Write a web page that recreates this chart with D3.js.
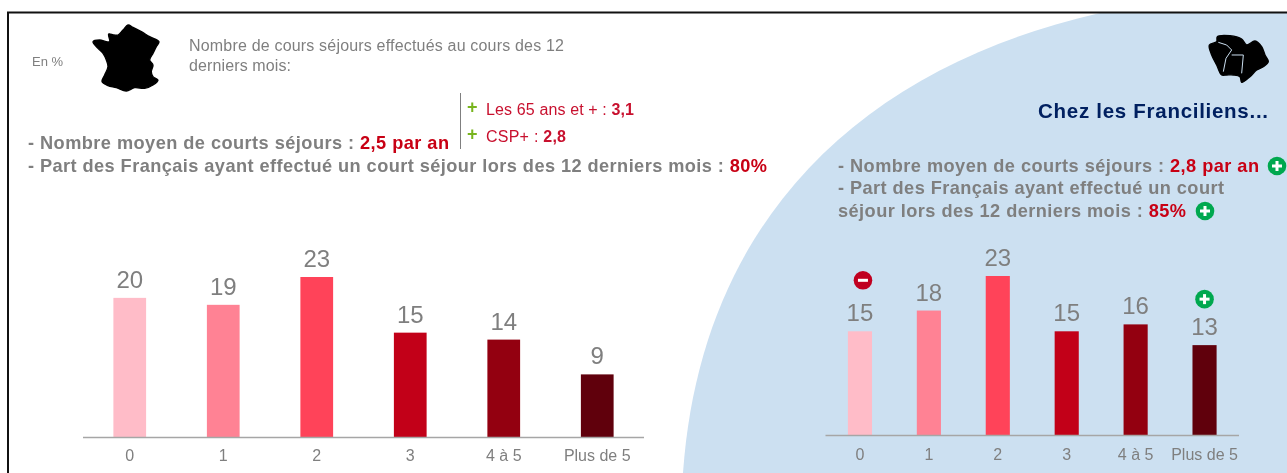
<!DOCTYPE html>
<html>
<head>
<meta charset="utf-8">
<script src="https://cdn.jsdelivr.net/npm/d3@7"></script>
<style>
html, body { margin: 0; padding: 0; background: #fff; overflow: hidden; }
svg { display: block; filter: blur(0.45px); font-family: "Liberation Sans", Arial, sans-serif; }
.axis path { stroke: #a6a6a6; stroke-width: 1.5; }
.axis text { fill: #7f7f7f; font-size: 16px; font-family: "Liberation Sans", Arial, sans-serif; }
</style>
</head>
<body>
<div id="chart"></div>
<script>
// nombre de courts sejours - France vs Ile-de-France
const categories = ["0", "1", "2", "3", "4 à 5", "Plus de 5"];
const franceValues = [20, 19, 23, 15, 14, 9];
const idfValues = [15, 18, 23, 15, 16, 13];
const idfBadges = ["minus", null, null, null, null, "plus"];
const barColors = ["#ffbcc8", "#ff8294", "#ff4359", "#c20018", "#930010", "#60000c"];

const width = 1287;
const height = 473;
const grey = "#7f7f7f";
const red = "#c80014";
const green = "#00a84f";

const svg = d3.select("#chart")
    .append("svg")
    .attr("width", width)
    .attr("height", height);

// fond bleu
svg.append("path")
    .attr("d", `M1100,13C850,70 700,230 683,473L${width},473L${width},13Z`)
    .attr("fill", "#cce0f1");

// cadre
svg.append("path")
    .attr("d", `M8,${height}V12.5H${width}`)
    .attr("fill", "none")
    .attr("stroke", "#111")
    .attr("stroke-width", 2);

function drawBars(values, badges, opts) {
    const x = d3.scaleBand()
        .domain(categories)
        .range(opts.xRange)
        .paddingInner(opts.padding)
        .paddingOuter(opts.padding / 2);
    const y = d3.scaleLinear()
        .domain([0, 23])
        .range([opts.baseY, opts.topY]);

    const g = svg.append("g");

    g.selectAll("rect")
        .data(values)
        .enter()
        .append("rect")
        .attr("x", (_, i) => x(categories[i]))
        .attr("y", d => y(d))
        .attr("width", x.bandwidth())
        .attr("height", d => y(0) - y(d))
        .attr("fill", (_, i) => barColors[i]);

    g.selectAll(".value")
        .data(values)
        .enter()
        .append("text")
        .attr("class", "value")
        .attr("x", (_, i) => x(categories[i]) + x.bandwidth() / 2)
        .attr("y", d => y(d) - 10)
        .attr("text-anchor", "middle")
        .attr("font-size", opts.valueSize)
        .attr("fill", grey)
        .text(d => d);

    const axis = g.append("g")
        .attr("class", "axis")
        .attr("transform", `translate(0,${opts.baseY})`)
        .call(d3.axisBottom(x).tickSize(0).tickPadding(opts.tickPad));
    axis.select(".domain").attr("d", `M${opts.xRange[0]},0.5H${opts.xRange[1]}`);

    badges.forEach((b, i) => {
        if (b) {
            drawBadge(x(categories[i]) + x.bandwidth() / 2 + (b === "minus" ? 3 : 0), y(values[i]) - (b === "minus" ? 51 : 46), b);
        }
    });
}

function drawBadge(cx, cy, type) {
    const g = svg.append("g").attr("transform", `translate(${cx},${cy})`);
    g.append("circle").attr("r", 9.3).attr("fill", type === "plus" ? green : "#c00020");
    g.append("rect").attr("x", -5).attr("y", -1.5).attr("width", 10).attr("height", 3).attr("fill", "#fff");
    if (type === "plus") {
        g.append("rect").attr("x", -1.5).attr("y", -5).attr("width", 3).attr("height", 10).attr("fill", "#fff");
    }
}

// parts = [texte, gras, couleur], len = largeur mesuree sur l'image
function line(x, y, size, parts, len) {
    const t = svg.append("text")
        .attr("x", x)
        .attr("y", y)
        .attr("font-size", size);
    if (len) t.attr("textLength", len);
    for (const p of parts) {
        t.append("tspan")
            .attr("font-weight", p[1] ? "bold" : "normal")
            .attr("fill", p[2])
            .text(p[0]);
    }
    return t;
}

drawBars(franceValues, [null, null, null, null, null, null], { xRange: [83, 644], baseY: 437, topY: 277, padding: 0.65, valueSize: 24, tickPad: 13 });
drawBars(idfValues, idfBadges, { xRange: [825.5, 1239], baseY: 435, topY: 276, padding: 0.65, valueSize: 24, tickPad: 14 });

// textes gauche
line(32, 66, 13, [["En %", false, grey]], 31);
line(189, 51, 16, [["Nombre de cours séjours effectués au cours des 12", false, grey]], 375);
line(189, 71, 16, [["derniers mois:", false, grey]], 102);
line(28, 149, 18.2, [["- Nombre moyen de courts séjours : ", true, grey], ["2,5 par an", true, red]], 421);
line(28, 172, 18.2, [["- Part des Français ayant effectué un court séjour lors des 12 derniers mois : ", true, grey], ["80%", true, red]], 739);

svg.append("line")
    .attr("x1", 460.5).attr("x2", 460.5).attr("y1", 93).attr("y2", 149)
    .attr("stroke", grey).attr("stroke-width", 1);
line(467, 113, 18, [["+", true, "#78b41e"]]);
line(467, 140, 18, [["+", true, "#78b41e"]]);
line(486, 115, 16, [["Les 65 ans et + : ", false, "#c8102e"], ["3,1", true, "#c8102e"]], 148);
line(486, 142, 16, [["CSP+ : ", false, "#c8102e"], ["2,8", true, "#c8102e"]], 80);

// textes droite
line(1038, 118, 20.5, [["Chez les Franciliens...", true, "#002060"]], 230);
line(838, 172, 18.2, [["- Nombre moyen de courts séjours : ", true, grey], ["2,8 par an", true, red]], 421);
line(838, 194, 18.2, [["- Part des Français ayant effectué un court", true, grey]], 386);
line(838, 217, 18.2, [["séjour lors des 12 derniers mois : ", true, grey], ["85%", true, red]], 348);
drawBadge(1277, 166, "plus");
drawBadge(1205, 211, "plus");

// cartes
const lineClosed = d3.line().curve(d3.curveCatmullRomClosed);
const francePts = [[120, 15], [135, 22], [160, 35], [185, 50], [213, 65], [205, 80], [195, 100], [185, 120], [195, 135], [190, 155], [195, 170], [210, 180], [195, 195], [170, 205], [140, 203], [115, 213], [85, 203], [60, 197], [42, 185], [50, 165], [60, 140], [55, 120], [45, 100], [30, 85], [15, 65], [35, 60], [55, 65], [65, 65], [62, 42], [78, 45], [90, 45], [105, 30]];
svg.append("path")
    .attr("transform", "translate(88,20) scale(0.3333)")
    .attr("d", lineClosed(francePts))
    .attr("fill", "#000")
    .attr("stroke", "#000")
    .attr("stroke-width", 4);

const idfPts = [[52, 35], [90, 32], [125, 42], [140, 60], [165, 48], [185, 65], [195, 90], [205, 110], [190, 125], [170, 135], [150, 155], [125, 172], [120, 155], [100, 150], [80, 150], [65, 150], [50, 120], [35, 90], [28, 60], [50, 50]];
const idfMap = svg.append("g").attr("transform", "translate(1200,25) scale(0.3333)");
idfMap.append("path").attr("d", lineClosed(idfPts)).attr("fill", "#000").attr("stroke", "#000").attr("stroke-width", 4);
idfMap.append("path")
    .attr("d", "M55,52L80,60M80,60L95,75L78,100L70,140M95,90L130,90L125,145")
    .attr("fill", "none")
    .attr("stroke", "#cce0f1")
    .attr("stroke-width", 3);
</script>
</body>
</html>
